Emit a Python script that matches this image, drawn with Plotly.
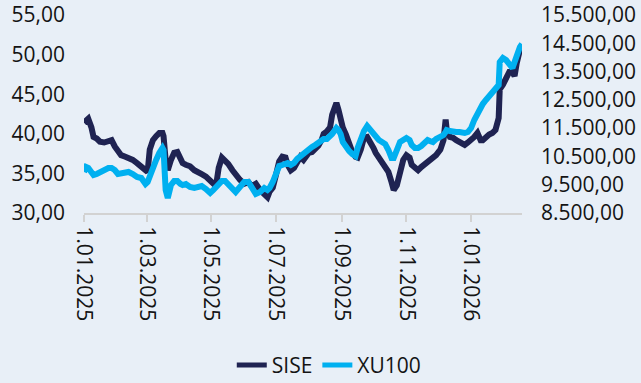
import plotly.graph_objects as go

dates = [
    "2025-01-01", "2025-01-03", "2025-01-05", "2025-01-08", "2025-01-10", "2025-01-13", "2025-01-16", "2025-01-20", "2025-01-24", "2025-01-27",
    "2025-01-30", "2025-02-02", "2025-02-05", "2025-02-09", "2025-02-12", "2025-02-16", "2025-02-20", "2025-02-24", "2025-02-28", "2025-03-02",
    "2025-03-04", "2025-03-07", "2025-03-10", "2025-03-13", "2025-03-16", "2025-03-17", "2025-03-19", "2025-03-21", "2025-03-24", "2025-03-27",
    "2025-03-30", "2025-04-02", "2025-04-04", "2025-04-07", "2025-04-11", "2025-04-15", "2025-04-19", "2025-04-22", "2025-04-26", "2025-04-30",
    "2025-05-03", "2025-05-06", "2025-05-08", "2025-05-11", "2025-05-14", "2025-05-17", "2025-05-21", "2025-05-24", "2025-05-28", "2025-06-01",
    "2025-06-05", "2025-06-08", "2025-06-12", "2025-06-16", "2025-06-20", "2025-06-23", "2025-06-25", "2025-06-28", "2025-07-01", "2025-07-04",
    "2025-07-07", "2025-07-10", "2025-07-12", "2025-07-15", "2025-07-18", "2025-07-21", "2025-07-24", "2025-07-27", "2025-07-29", "2025-08-01",
    "2025-08-04", "2025-08-07", "2025-08-10", "2025-08-13", "2025-08-15", "2025-08-18", "2025-08-21", "2025-08-23", "2025-08-25", "2025-08-27",
    "2025-08-29", "2025-08-31", "2025-09-02", "2025-09-05", "2025-09-08", "2025-09-11", "2025-09-14", "2025-09-16", "2025-09-19", "2025-09-22",
    "2025-09-25", "2025-09-28", "2025-10-01", "2025-10-03", "2025-10-06", "2025-10-09", "2025-10-12", "2025-10-15", "2025-10-18", "2025-10-20",
    "2025-10-23", "2025-10-26", "2025-10-29", "2025-11-01", "2025-11-04", "2025-11-06", "2025-11-09", "2025-11-12", "2025-11-15", "2025-11-18",
    "2025-11-21", "2025-11-23", "2025-11-26", "2025-11-29", "2025-12-03", "2025-12-06", "2025-12-08", "2025-12-09", "2025-12-12", "2025-12-15",
    "2025-12-18", "2025-12-21", "2025-12-24", "2025-12-26", "2025-12-29", "2026-01-01", "2026-01-04", "2026-01-07", "2026-01-10", "2026-01-12",
    "2026-01-15", "2026-01-18", "2026-01-21", "2026-01-24", "2026-01-27", "2026-01-28", "2026-01-31", "2026-02-03", "2026-02-06", "2026-02-09",
    "2026-02-11", "2026-02-13", "2026-02-14", "2026-02-16", "2026-02-18",
]

sise = [
    41.4, 41.8, 41.9, 40.8, 39.6, 39.4, 39.0, 38.9, 39.1, 39.2,
    38.4, 37.7, 37.3, 37.1, 37.0, 36.7, 36.3, 35.9, 35.4, 35.2,
    38.0, 39.2, 39.7, 40.1, 40.1, 39.7, 36.7, 35.4, 36.7, 37.6,
    37.7, 37.0, 36.3, 36.1, 35.9, 35.4, 35.2, 34.9, 34.6, 34.2,
    33.7, 33.9, 35.7, 37.0, 36.7, 36.2, 35.4, 34.8, 34.2, 33.7,
    33.9, 33.4, 33.7, 32.9, 32.4, 32.0, 32.7, 33.2, 34.8, 36.5,
    37.1, 37.0, 36.1, 35.4, 35.7, 36.5, 37.1, 36.7, 37.0, 37.6,
    37.7, 38.0, 38.5, 39.2, 40.0, 40.3, 40.8, 42.4, 43.4, 43.9,
    43.0, 41.5, 40.8, 39.9, 38.6, 37.7, 37.1, 37.0, 38.0, 39.5,
    39.6, 39.0, 38.2, 37.6, 37.0, 36.5, 36.1, 35.2, 33.9, 32.9,
    33.5, 35.4, 36.7, 37.3, 37.0, 36.1, 35.7, 35.4, 35.8, 36.1,
    36.3, 36.7, 37.0, 37.3, 38.0, 39.2, 41.8, 40.5, 39.6, 39.5,
    39.2, 39.0, 38.9, 38.6, 38.9, 39.2, 39.6, 40.1, 39.2, 39.2,
    39.6, 39.9, 40.1, 40.5, 42.0, 45.6, 46.2, 47.1, 47.8, 47.8,
    47.3, 48.9, 49.7, 50.6, 51.0,
]

xu100 = [
    9950, 10126, 10091, 9950, 9843, 9879, 9950, 10020, 10091, 10091,
    10020, 9879, 9914, 9950, 9950, 9879, 9773, 9737, 9525, 9596,
    9808, 10197, 10374, 10621, 10798, 10727, 9313, 9030, 9490, 9631,
    9631, 9525, 9490, 9525, 9419, 9384, 9454, 9454, 9348, 9207,
    9313, 9454, 9560, 9631, 9631, 9525, 9384, 9242, 9419, 9596,
    9596, 9384, 9172, 9242, 9384, 9313, 9384, 9596, 9950, 10161,
    10197, 10232, 10268, 10197, 10268, 10409, 10515, 10586, 10656, 10762,
    10833, 10904, 10975, 11045, 11116, 11116, 11187, 11293, 11399, 11505,
    11434, 11293, 11010, 10833, 10692, 10586, 10515, 10798, 11151, 11399,
    11575, 11434, 11293, 11151, 11081, 11010, 10939, 10727, 10444, 10444,
    10798, 11010, 11081, 11151, 11081, 10904, 10798, 10798, 10868, 10975,
    11081, 11045, 11010, 11116, 11187, 11257, 11363, 11434, 11399, 11363,
    11363, 11363, 11328, 11328, 11363, 11505, 11788, 12035, 12212, 12353,
    12495, 12636, 12777, 12848, 13025, 13838, 13979, 13908, 13803, 13626,
    13838, 14050, 14262, 14368, 14474,
]

x_tick_vals = ["2025-01-01", "2025-03-01", "2025-05-01", "2025-07-01", "2025-09-01", "2025-11-01", "2026-01-01"]
x_tick_text = ["1.01.2025", "1.03.2025", "1.05.2025", "1.07.2025", "1.09.2025", "1.11.2025", "1.01.2026"]
left_ticks = [30, 35, 40, 45, 50, 55]
right_ticks = [8500, 9500, 10500, 11500, 12500, 13500, 14500, 15500]

NAVY = "#1f2352"
CYAN = "#00b0f0"
BG = "#e8eff7"
FONT = "Open Sans"
TXT = "#141414"

fig = go.Figure()
fig.add_trace(go.Scatter(x=dates, y=sise, name="SISE", mode="lines",
                         line=dict(color=NAVY, width=6), yaxis="y"))
fig.add_trace(go.Scatter(x=dates, y=xu100, name="XU100", mode="lines",
                         line=dict(color=CYAN, width=6), yaxis="y2"))

fig.update_layout(
    width=641, height=383,
    margin=dict(l=84, r=119, t=15, b=170, pad=0, autoexpand=False),
    paper_bgcolor=BG, plot_bgcolor=BG,
    separators=",.",
    font=dict(family=FONT, size=21, color=TXT),
    showlegend=True,
    legend=dict(orientation="h", x=0.56, xanchor="center", y=-0.77, yanchor="middle",
                font=dict(family=FONT, size=21, color=TXT),
                bgcolor="rgba(0,0,0,0)", itemsizing="constant"),
    xaxis=dict(type="date", range=["2025-01-01", "2026-02-18"], automargin=False,
               tickmode="array", tickvals=x_tick_vals, ticktext=x_tick_text,
               tickangle=90, showgrid=False, zeroline=False,
               showline=True, linecolor="#d2d2d2", linewidth=2,
               ticks="outside", ticklen=7, tickwidth=2, tickcolor="#d2d2d2",
               tickfont=dict(family=FONT, size=21, color=TXT)),
    yaxis=dict(range=[30, 55], tickmode="array", tickvals=left_ticks, tickformat=".2f",
               automargin=False,
               showgrid=False, zeroline=False, showline=False, ticks="",
               ticklabelstandoff=18,
               tickfont=dict(family=FONT, size=21, color=TXT)),
    yaxis2=dict(range=[8500, 15500], overlaying="y", side="right", automargin=False,
                tickmode="array", tickvals=right_ticks, tickformat=",.2f",
                showgrid=False, zeroline=False, showline=False, ticks="",
                ticklabelstandoff=18,
                tickfont=dict(family=FONT, size=21, color=TXT)),
)

fig.write_html("out.html")
